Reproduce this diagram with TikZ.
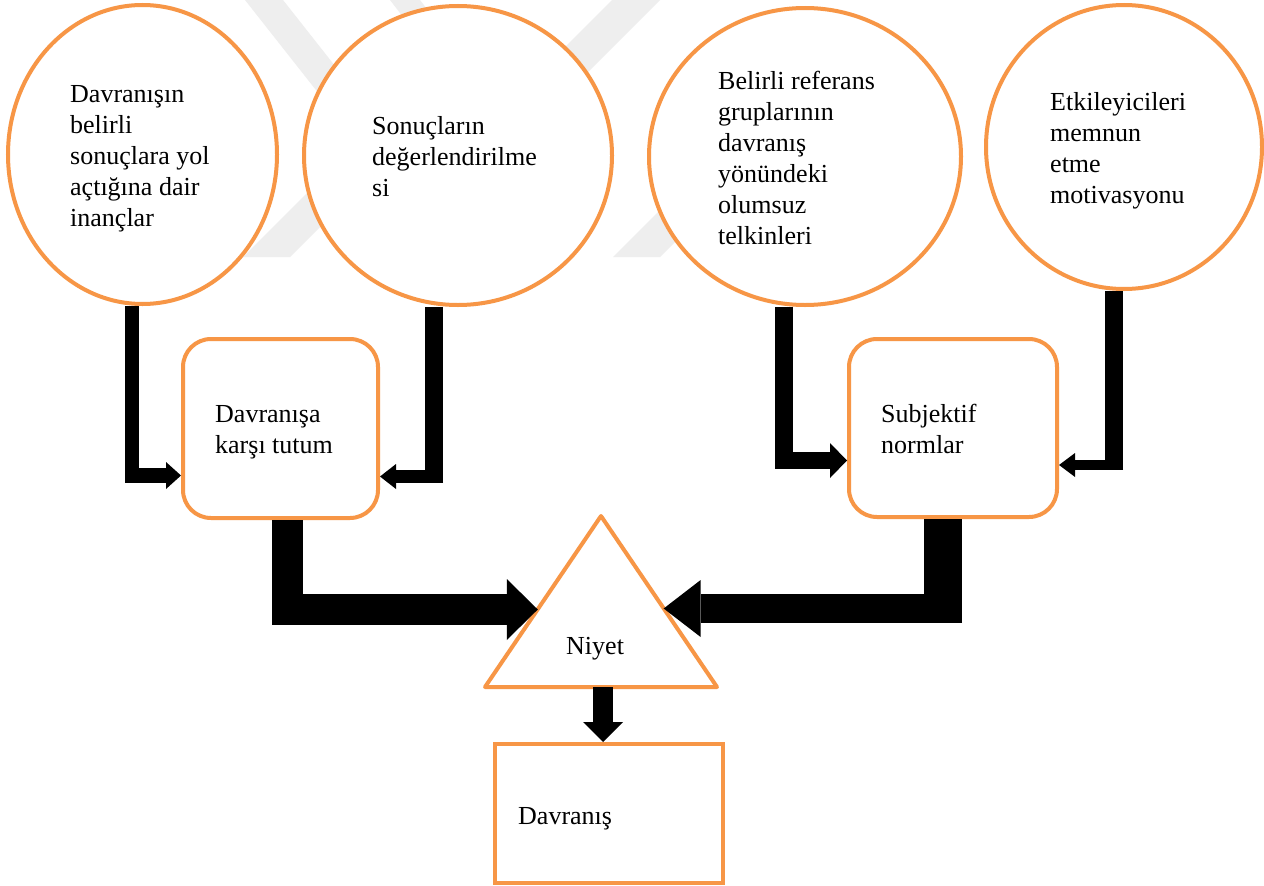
\documentclass[tikz,border=0pt]{standalone}
\usepackage{fontspec}
\setmainfont{Liberation Serif}
\usetikzlibrary{arrows.meta,calc,shapes.geometric}
\definecolor{accent}{HTML}{F79646}
\definecolor{wmark}{HTML}{EEEEEE}
% left-aligned block of lines whose reference point is the first baseline
\newcommand\txtblock[1]{\begin{tabular}[t]{@{}l@{}}#1\end{tabular}}
\begin{document}
\begin{tikzpicture}[x=1pt,y=-1pt,
  bubble/.style={ellipse,draw=accent,line width=4pt,fill=white,inner sep=0pt},
  rbox/.style={rectangle,rounded corners=28pt,draw=accent,line width=4pt,fill=white,inner sep=0pt},
  sbox/.style={rectangle,draw=accent,line width=4pt,fill=white,inner sep=0pt},
  txt/.style={anchor=base west,inner sep=0pt,font=\fontsize{26}{31}\selectfont},
  shaft/.style={draw=black,line width=#1,line cap=butt,line join=miter},
  head/.style n args={2}{-{Triangle[length=#1pt,width=#2pt,line width=0pt]}}]

\useasboundingbox[fill=white] (0,0) rectangle (1264,886);

% faint background stripes
\fill[wmark] (245,0) -- (283,0) -- (480,250) -- (442,250) -- cycle;
\fill[wmark] (390,0) -- (420,0) -- (520,130) -- (490,130) -- cycle;
\fill[wmark] (612,0) -- (660,0) -- (560,100) -- (512,100) -- cycle;
\fill[wmark] (613,257) -- (660,257) -- (770,147) -- (723,147) -- cycle;
\fill[wmark] (243,257) -- (290,257) -- (400,147) -- (353,147) -- cycle;

% top row: four beliefs / motivations
\node[bubble,minimum width=269,minimum height=299] (e1) at (142.5,154.5) {};
\node[bubble,minimum width=308,minimum height=299] (e2) at (458,155.5) {};
\node[bubble,minimum width=312,minimum height=297] (e3) at (805,156.5) {};
\node[bubble,minimum width=276,minimum height=284] (e4) at (1124,147) {};

\node[txt] (t1) at (70,102) {\txtblock{Davranışın\\belirli\\sonuçlara yol\\açtığına dair\\inançlar}};
\node[txt] (t2) at (372,134) {\txtblock{Sonuçların\\değerlendirilme\\si}};
\node[txt] (t3) at (718,89) {\txtblock{Belirli referans\\gruplarının\\davranış\\yönündeki\\olumsuz\\telkinleri}};
\node[txt] (t4) at (1050,110) {\txtblock{Etkileyicileri\\memnun\\etme\\motivasyonu}};

% middle row
\node[rbox,minimum width=195,minimum height=179] (b1) at (280.5,428.5) {};
\node[txt] (tb1) at (215,422) {\txtblock{Davranışa\\karşı tutum}};
\node[rbox,minimum width=208,minimum height=178] (b2) at (953,428) {};
\node[txt] (tb2) at (881,422) {\txtblock{Subjektif\\normlar}};

% intention triangle
\coordinate (tA) at (601,516);
\coordinate (tL) at (485,687);
\coordinate (tR) at (717,687);
\draw[accent,line width=4pt,line join=round,fill=white] (tA) -- (tL) -- (tR) -- cycle;
\node[txt] (niyet) at (566,654) {Niyet};
\coordinate (nL) at ($(tA)!0.545!(tL)$);
\coordinate (nR) at ($(tA)!0.54!(tR)$);
\coordinate (nB) at ($(tL)!0.509!(tR)$);

% behaviour box
\node[sbox,minimum width=228,minimum height=139] (b3) at (609,813.5) {};
\node[txt] (tb3) at (518,824) {Davranış};

% connectors into the attitude box
\coordinate (k1) at (132,483);
\coordinate (h1) at (125,475.5);
\draw[shaft=14] (e1.south -| k1) -- (k1);
\draw[shaft=15,head={15}{27}] (h1) -- (b1.west |- h1);

\coordinate (k2) at (434,483);
\coordinate (h2) at (443,476.5);
\draw[shaft=18] (e2.south -| k2) -- (k2);
\draw[shaft=13,head={16}{25}] (h2) -- (b1.east |- h2);

% connectors into the norms box
\coordinate (k3) at (784,469);
\coordinate (h3) at (775,460.5);
\draw[shaft=18] (e3.south -| k3) -- (k3);
\draw[shaft=17,head={17}{35}] (h3) -- (b2.west |- h3);

\coordinate (k4) at (1114,470);
\coordinate (h4) at (1123,465);
\draw[shaft=18] (e4.south -| k4) -- (k4);
\draw[shaft=10,head={16}{24}] (h4) -- (b2.east |- h4);

% connectors into the intention
\coordinate (k5) at (287.5,625);
\coordinate (h5) at (272,609.5);
\draw[shaft=31] (b1.south -| k5) -- (k5);
\draw[shaft=31,head={31}{61}] (h5) -- (nL |- h5);

\coordinate (k6) at (943,623);
\coordinate (h6) at (962,608.5);
\draw[shaft=38] (b2.south -| k6) -- (k6);
\draw[shaft=29,head={37}{57}] (h6) -- (nR |- h6);

% intention to behaviour
\draw[shaft=20,head={20}{40}] (nB) -- (b3.north -| nB);

\end{tikzpicture}
\end{document}
